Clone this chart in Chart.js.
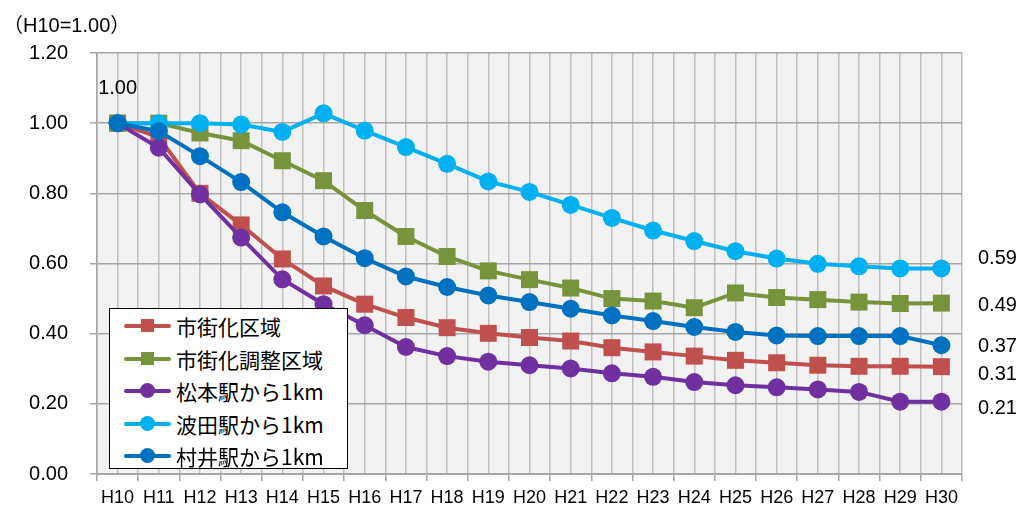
<!DOCTYPE html>
<html>
<head>
<meta charset="utf-8">
<script src="https://cdn.jsdelivr.net/npm/chart.js@4.4.1/dist/chart.umd.min.js"></script>
<style>
  body { margin: 0; background: #fff; }
  #wrap { position: relative; width: 1021px; height: 513px; }
  #unit { position: absolute; left: 3px; top: 9px; font-family: "Liberation Sans", "Noto Sans CJK JP"; font-size: 20px; color: #000; white-space: nowrap; }
  #legend { position: absolute; left: 109px; top: 308px; width: 239px; height: 161px; box-sizing: border-box;
            border: 1px solid #000; background: #fff; font-family: "Noto Sans CJK JP"; font-size: 21px; }
  .row { position: absolute; left: 0; height: 32px; width: 100%; }
  .row .ln { position: absolute; left: 14px; top: 14px; width: 47px; height: 4px; border-radius: 2px; }
  .row .mk { position: absolute; left: 31px; top: 9px; width: 13px; height: 13px; }
  .row .mk.circle { border-radius: 50%; left: 30px; top: 8px; width: 15px; height: 15px; }
  .row .tx { position: absolute; left: 66px; top: 0; line-height: 32px; white-space: nowrap; }
</style>
</head>
<body>
<div id="wrap">
  <canvas id="chart" width="1021" height="513"></canvas>
  <div id="unit">（H10=1.00）</div>
  <div id="legend"></div>
</div>
<script>
// years H10..H30
const years = ['H10','H11','H12','H13','H14','H15','H16','H17','H18','H19','H20','H21','H22','H23','H24','H25','H26','H27','H28','H29','H30'];

const shigaika   = [1.00, 0.96, 0.80, 0.71, 0.613, 0.536, 0.484, 0.446, 0.417, 0.401, 0.389, 0.379, 0.360, 0.348, 0.336, 0.324, 0.317, 0.310, 0.307, 0.307, 0.306];
const chosei     = [1.00, 1.00, 0.972, 0.950, 0.893, 0.836, 0.751, 0.677, 0.620, 0.579, 0.554, 0.530, 0.500, 0.493, 0.474, 0.516, 0.503, 0.497, 0.490, 0.486, 0.487];
const matsumoto  = [1.00, 0.93, 0.797, 0.674, 0.555, 0.484, 0.424, 0.362, 0.336, 0.320, 0.310, 0.301, 0.287, 0.277, 0.262, 0.253, 0.247, 0.241, 0.234, 0.206, 0.206];
const hata       = [1.00, 1.00, 1.00, 0.996, 0.975, 1.028, 0.979, 0.932, 0.884, 0.834, 0.804, 0.767, 0.730, 0.694, 0.664, 0.635, 0.614, 0.599, 0.592, 0.586, 0.586];
const murai      = [1.00, 0.977, 0.906, 0.832, 0.746, 0.677, 0.615, 0.563, 0.533, 0.509, 0.490, 0.471, 0.452, 0.436, 0.419, 0.405, 0.395, 0.393, 0.393, 0.393, 0.367];

const names  = ['市街化区域', '市街化調整区域', '松本駅から1km', '波田駅から1km', '村井駅から1km'];
const colors = ['#C0504D', '#77933C', '#7030A0', '#00B0F0', '#0070C0'];
const shapes = ['rect', 'rect', 'circle', 'circle', 'circle'];
const series = [shigaika, chosei, matsumoto, hata, murai];

// vertical nudge of the end labels so they don't collide (pixels, same order as series)
const endNudge = [8, 2, 7, -10, 1];

const yTicks = [0, 0.2, 0.4, 0.6, 0.8, 1.0, 1.2];

const datasets = series.map((d, i) => ({
  label: names[i],
  data: d,
  borderColor: colors[i],
  backgroundColor: colors[i],
  borderWidth: 4,
  pointStyle: shapes[i],
  pointRadius: shapes[i] === 'rect' ? 12 : 9,
  pointHoverRadius: shapes[i] === 'rect' ? 12 : 9,
  pointBackgroundColor: colors[i],
  pointBorderColor: colors[i],
  pointBorderWidth: 0,
  tension: 0,
  xAxisID: 'x',
  order: 5 - i
}));

// html legend
const legendEl = document.getElementById('legend');
names.forEach((n, i) => {
  const row = document.createElement('div');
  row.className = 'row';
  row.style.top = (1 + i * 32.5) + 'px';
  row.innerHTML = '<div class="ln" style="background:' + colors[i] + '"></div>' +
    '<div class="mk' + (shapes[i] === 'circle' ? ' circle' : '') + '" style="background:' + colors[i] + '"></div>' +
    '<div class="tx">' + n + '</div>';
  legendEl.appendChild(row);
});

const plotBg = {
  id: 'plotBg',
  beforeDraw(chart) {
    const a = chart.chartArea;
    const ctx = chart.ctx;
    ctx.save();
    ctx.fillStyle = '#F2F2F2';
    ctx.fillRect(a.left, a.top, a.right - a.left, a.bottom - a.top);
    ctx.restore();
  }
};

const valueLabels = {
  id: 'valueLabels',
  afterDatasetsDraw(chart) {
    const ctx = chart.ctx;
    const x = chart.scales.x, y = chart.scales.y;
    ctx.save();
    ctx.font = '20px "Liberation Sans"';
    ctx.fillStyle = '#000';
    ctx.textBaseline = 'middle';
    // first value
    ctx.textAlign = 'center';
    ctx.fillText(series[0][0].toFixed(2), x.getPixelForValue(0), y.getPixelForValue(series[0][0]) - 35);
    // last values
    ctx.textAlign = 'left';
    const last = years.length - 1;
    series.forEach((d, i) => {
      ctx.fillText(d[last].toFixed(2), chart.chartArea.right + 16, y.getPixelForValue(d[last]) + endNudge[i]);
    });
    ctx.restore();
  }
};

new Chart(document.getElementById('chart'), {
  type: 'line',
  data: { labels: years, datasets: datasets },
  options: {
    responsive: false,
    animation: false,
    layout: { padding: { top: 53, right: 59, left: 0, bottom: 0 } },
    plugins: { legend: { display: false }, tooltip: { enabled: false } },
    scales: {
      x: {
        type: 'category',
        position: 'bottom',
        offset: true,
        grid: { offset: true, color: '#BFBFBF', lineWidth: 1.5, tickLength: 7, tickColor: '#A6A6A6' },
        border: { color: '#A6A6A6', width: 2 },
        ticks: { color: '#000', font: { family: 'Liberation Sans', size: 18 }, padding: 6, maxRotation: 0, autoSkip: false },
        afterFit(s) { s.height = 39; }
      },
      x2: {
        type: 'category',
        labels: years,
        position: 'bottom',
        offset: true,
        grid: { offset: false, color: '#BFBFBF', lineWidth: 1.5, drawTicks: false },
        border: { display: false },
        ticks: { display: false },
        afterFit(s) { s.height = 0; }
      },
      y: {
        min: 0,
        max: 1.2,
        afterBuildTicks(s) { s.ticks = yTicks.map(v => ({ value: v })); },
        grid: { color: '#A6A6A6', lineWidth: 1.5, tickLength: 7 },
        border: { color: '#A6A6A6', width: 1.5 },
        ticks: { color: '#000', font: { family: 'Liberation Sans', size: 20 }, padding: 22, callback: v => v.toFixed(2) },
        afterFit(s) { s.width = 97; }
      }
    }
  },
  plugins: [plotBg, valueLabels]
});
</script>
</body>
</html>
